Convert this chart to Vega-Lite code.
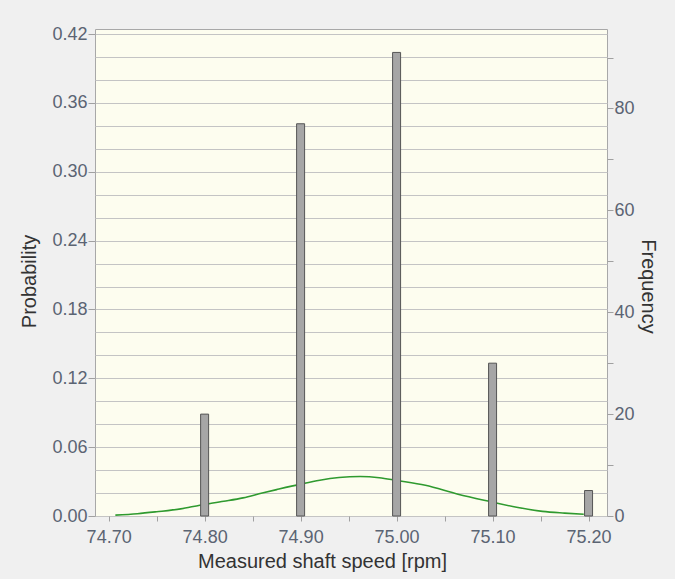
{
  "$schema": "https://vega.github.io/schema/vega-lite/v6.json",
  "width": 512,
  "height": 487,
  "autosize": "none",
  "padding": {"left": 95, "top": 29, "right": 68, "bottom": 63},
  "background": "#f0f0f0",
  "config": {
    "view": {"stroke": "#a8a8a8", "strokeWidth": 1, "fill": "#fdfdef"},
    "font": "Liberation Sans",
    "axis": {
      "labelFont": "Liberation Sans",
      "titleFont": "Liberation Sans",
      "labelFontSize": 18,
      "titleFontSize": 20,
      "titleFontWeight": "normal",
      "labelColor": "#5b6473",
      "titleColor": "#333333",
      "tickColor": "#a0a0a0",
      "domainColor": "#a8a8a8"
    }
  },
  "datasets": {
    "bars": [
      {"speed": 74.80, "frequency": 20},
      {"speed": 74.90, "frequency": 77},
      {"speed": 75.00, "frequency": 91},
      {"speed": 75.10, "frequency": 30},
      {"speed": 75.20, "frequency": 5}
    ],
    "curve": [
      {"speed": 74.707, "probability": 0.0008},
      {"speed": 74.73, "probability": 0.0020},
      {"speed": 74.75, "probability": 0.0037},
      {"speed": 74.775, "probability": 0.0062},
      {"speed": 74.795, "probability": 0.0094},
      {"speed": 74.82, "probability": 0.0128},
      {"speed": 74.84, "probability": 0.0158},
      {"speed": 74.86, "probability": 0.0200},
      {"speed": 74.875, "probability": 0.0230},
      {"speed": 74.90, "probability": 0.0278},
      {"speed": 74.92, "probability": 0.0312},
      {"speed": 74.94, "probability": 0.0335},
      {"speed": 74.962, "probability": 0.0344},
      {"speed": 74.982, "probability": 0.0334},
      {"speed": 75.00, "probability": 0.0310},
      {"speed": 75.03, "probability": 0.0268},
      {"speed": 75.064, "probability": 0.0190},
      {"speed": 75.098, "probability": 0.0125},
      {"speed": 75.125, "probability": 0.0076},
      {"speed": 75.152, "probability": 0.0040},
      {"speed": 75.175, "probability": 0.0025},
      {"speed": 75.195, "probability": 0.0015}
    ]
  },
  "layer": [
    {
      "data": {"name": "curve"},
      "mark": {"type": "line", "color": "#2f9a2f", "strokeWidth": 1.6, "interpolate": "monotone"},
      "encoding": {
        "x": {
          "field": "speed", "type": "quantitative",
          "scale": {"domain": [74.691, 75.214], "nice": false, "zero": false},
          "axis": {
            "orient": "bottom",
            "title": "Measured shaft speed [rpm]",
            "values": [74.70, 74.75, 74.80, 74.85, 74.90, 74.95, 75.00, 75.05, 75.10, 75.15, 75.20],
            "format": ".2f",
            "labelExpr": "round(datum.value*100) % 10 == 0 ? datum.label : ''",
            "tickSize": 5,
            "labelPadding": 7,
            "grid": false,
            "domain": false,
            "titleX": 227,
            "titleY": 45,
            "titleBaseline": "middle"
          }
        },
        "y": {
          "field": "probability", "type": "quantitative",
          "scale": {"domain": [0, 0.4245], "nice": false},
          "axis": {
            "orient": "left",
            "title": "Probability",
            "values": [0, 0.02, 0.04, 0.06, 0.08, 0.10, 0.12, 0.14, 0.16, 0.18, 0.20, 0.22, 0.24, 0.26, 0.28, 0.30, 0.32, 0.34, 0.36, 0.38, 0.40, 0.42],
            "format": ".2f",
            "labelExpr": "round(datum.value*100) % 6 == 0 ? datum.label : ''",
            "tickOpacity": {"condition": {"test": "round(datum.value*100) % 6 == 0", "value": 1}, "value": 0},
            "tickSize": 7,
            "labelPadding": 1,
            "grid": true,
            "gridColor": "#c4c4c4",
            "gridWidth": 1.2,
            "domain": false,
            "titleX": -66,
            "titleY": 252,
            "titleBaseline": "middle"
          }
        }
      }
    },
    {
      "data": {"name": "bars"},
      "mark": {"type": "bar", "size": 8, "fill": "#a6a6a6", "stroke": "#555555", "strokeWidth": 1},
      "encoding": {
        "x": {
          "field": "speed", "type": "quantitative",
          "scale": {"domain": [74.691, 75.214], "nice": false, "zero": false}
        },
        "y": {
          "field": "frequency", "type": "quantitative",
          "scale": {"domain": [0, 95.6], "nice": false},
          "axis": {
            "orient": "right",
            "title": "Frequency",
            "values": [0, 10, 20, 30, 40, 50, 60, 70, 80, 90],
            "labelExpr": "datum.value % 20 == 0 ? datum.label : ''",
            "tickSize": 6,
            "labelPadding": 1,
            "grid": false,
            "domain": false,
            "titleX": 40,
            "titleY": 257,
            "titleBaseline": "middle"
          }
        }
      }
    }
  ],
  "resolve": {"scale": {"y": "independent"}}
}
